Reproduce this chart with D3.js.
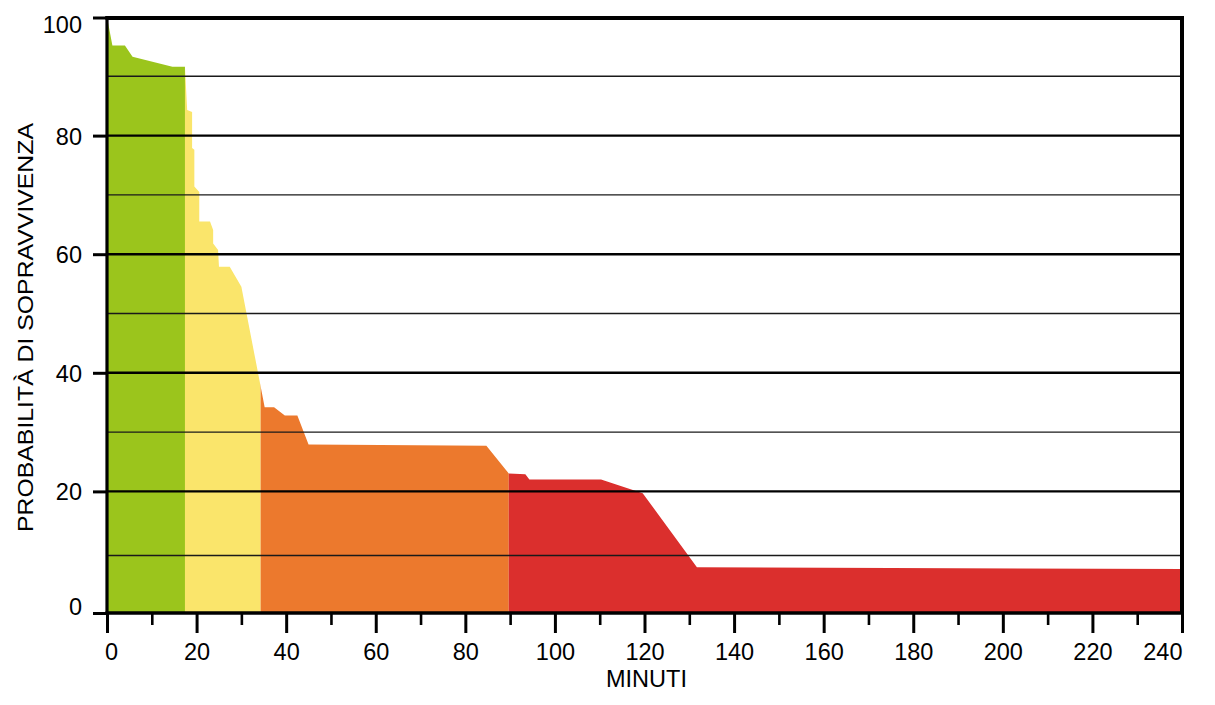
<!DOCTYPE html>
<html>
<head>
<meta charset="utf-8">
<script src="https://cdn.jsdelivr.net/npm/d3@7/dist/d3.min.js"></script>
<style>
  html, body { margin: 0; padding: 0; background: #ffffff; }
  svg { display: block; font-family: "Liberation Sans", Arial, Helvetica, sans-serif; }
</style>
</head>
<body>
<svg id="chart" width="1215" height="705"></svg>
<script>
// ---- data ----
const survMinutes = [0, 1.2, 4.0, 5.7, 14.6, 17.4, 17.9, 19.0, 19.0, 19.5, 19.5, 20.6, 20.6, 23.0, 23.7, 23.7, 24.8, 25.0, 27.4, 30.0, 35.2, 37.3, 39.7, 42.5, 45.0, 84.7, 89.7, 93.4, 94.3, 110.3, 119.6, 131.7, 240];
const survValues  = [100, 95.2, 95.2, 93.3, 91.6, 91.6, 84.3, 84.0, 77.9, 77.6, 71.4, 70.5, 65.5, 65.5, 64.1, 61.8, 60.7, 57.9, 57.9, 54.5, 34.2, 34.2, 32.8, 32.8, 27.9, 27.7, 23.0, 22.9, 22.0, 22.0, 19.7, 7.2, 6.9];
const phaseBreaks = [0, 17.4, 34.3, 89.7, 240];
const phaseColors = ["#9bc51c", "#fae56b", "#ec792d", "#db2f2d"];
const xTickLabels = [0, 20, 40, 60, 80, 100, 120, 140, 160, 180, 200, 220, 240];
const xMinorTicks = [10, 30, 50, 70, 90, 110, 130, 150, 170, 190, 210, 230];
const yTickLabels = [0, 20, 40, 60, 80, 100];
const yMajorGrid = [20, 40, 60, 80];
const yMinorGrid = [9.2, 30, 50, 70, 90];
const yTitle = "PROBABILITÀ DI SOPRAVVIVENZA";
const xTitle = "MINUTI";

// ---- layout ----
const svg = d3.select("#chart");
const L = 107, R = 1182, T = 17, B = 613;
const x = d3.scaleLinear().domain([0, 240]).range([L, R]);
const y = d3.scaleLinear().domain([0, 100]).range([610, T]);

const pts = survMinutes.map((m, i) => ({ m, v: survValues[i] }));

const defs = svg.append("defs");
phaseColors.forEach((c, i) => {
  defs.append("clipPath").attr("id", "clip" + i)
    .append("rect")
    .attr("x", x(phaseBreaks[i]))
    .attr("y", 0)
    .attr("width", x(phaseBreaks[i + 1]) - x(phaseBreaks[i]))
    .attr("height", 705);
});

const area = d3.area()
  .x(d => x(d.m))
  .y0(B)
  .y1(d => y(d.v))
  .curve(d3.curveLinear);

phaseColors.forEach((c, i) => {
  svg.append("path")
    .datum(pts)
    .attr("d", area)
    .attr("fill", c)
    .attr("clip-path", `url(#clip${i})`);
});

// grid lines
svg.append("g").selectAll("line").data(yMinorGrid).join("line")
  .attr("x1", L).attr("x2", R)
  .attr("y1", d => y(d)).attr("y2", d => y(d))
  .attr("stroke", "#1a1a1a").attr("stroke-width", 1.4);
svg.append("g").selectAll("line").data(yMajorGrid).join("line")
  .attr("x1", L).attr("x2", R)
  .attr("y1", d => y(d)).attr("y2", d => y(d))
  .attr("stroke", "#000").attr("stroke-width", 2.4);

// frame
svg.append("line").attr("x1", L - 1.5).attr("x2", R + 2).attr("y1", 18).attr("y2", 18)
  .attr("stroke", "#000").attr("stroke-width", 4);
svg.append("line").attr("x1", R).attr("x2", R).attr("y1", 16).attr("y2", B)
  .attr("stroke", "#000").attr("stroke-width", 4);
svg.append("line").attr("x1", L).attr("x2", L).attr("y1", 16).attr("y2", B + 1.5)
  .attr("stroke", "#000").attr("stroke-width", 3.2);
svg.append("line").attr("x1", L - 1.5).attr("x2", R + 2).attr("y1", B).attr("y2", B)
  .attr("stroke", "#000").attr("stroke-width", 3.6);

// x axis ticks
const xAxis = d3.axisBottom(x).tickValues(xTickLabels).tickSize(20).tickSizeOuter(0).tickFormat(d3.format("d"));
const gx = svg.append("g").attr("transform", `translate(0,${B})`).call(xAxis);
gx.select(".domain").remove();
gx.selectAll(".tick line").attr("stroke", "#000").attr("stroke-width", 3);
gx.selectAll(".tick text")
  .attr("y", 0).attr("dy", 0)
  .attr("transform", "translate(0,46.5)")
  .attr("font-size", 23.5).attr("fill", "#000")
  .attr("font-family", "Liberation Sans, Arial, sans-serif")
  .attr("text-anchor", d => d === 240 ? "end" : "middle")
  .attr("dx", d => d === 0 ? 4 : 0);

const xMinor = d3.axisBottom(x).tickValues(xMinorTicks).tickSize(12).tickSizeOuter(0).tickFormat("");
const gxm = svg.append("g").attr("transform", `translate(0,${B})`).call(xMinor);
gxm.select(".domain").remove();
gxm.selectAll(".tick line").attr("stroke", "#000").attr("stroke-width", 2.6);

// y axis ticks
const yAxis = d3.axisLeft(y).tickValues(yTickLabels).tickSize(14).tickSizeOuter(0).tickFormat(d3.format("d"));
const gy = svg.append("g").attr("transform", `translate(${L},0)`).call(yAxis);
gy.select(".domain").remove();
gy.selectAll(".tick line").attr("stroke", "#000").attr("stroke-width", 3)
  .attr("transform", d => d === 0 ? `translate(0,${B - y(0)})` : (d === 100 ? "translate(0,0.5)" : null));
gy.selectAll(".tick text")
  .attr("x", -25).attr("dy", d => d === 100 ? "0.68em" : (d === 0 ? "0.2em" : "0.36em"))
  .attr("font-size", 23.5).attr("fill", "#000")
  .attr("font-family", "Liberation Sans, Arial, sans-serif");

// titles
svg.append("text")
  .attr("transform", `translate(33,327.5) rotate(-90)`)
  .attr("text-anchor", "middle")
  .attr("font-size", 21.5).attr("fill", "#000")
  .attr("textLength", 409).attr("lengthAdjust", "spacingAndGlyphs")
  .text(yTitle);
svg.append("text")
  .attr("x", 646.5).attr("y", 686.5)
  .attr("text-anchor", "middle")
  .attr("font-size", 23).attr("fill", "#000")
  .attr("textLength", 81).attr("lengthAdjust", "spacingAndGlyphs")
  .text(xTitle);
</script>
</body>
</html>
